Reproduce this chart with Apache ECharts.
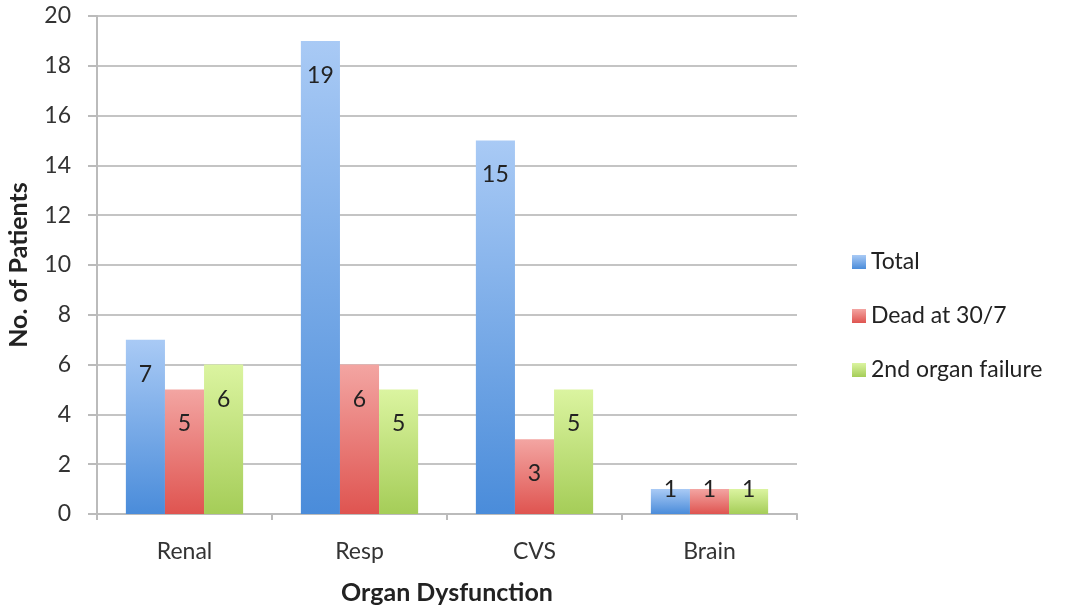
<!DOCTYPE html>
<html><head><meta charset="utf-8">
<script src="https://cdn.jsdelivr.net/npm/echarts@6/dist/echarts.min.js"></script>
<style>html,body{margin:0;padding:0;background:#fff}#c{width:1068px;height:609px}</style>
</head><body><div id="c"></div>
<script>
const categories = ['Renal', 'Resp', 'CVS', 'Brain'];
const totalValues = [7, 19, 15, 1];
const deadValues = [5, 6, 3, 1];
const secondOrganValues = [6, 5, 5, 1];
const seriesNames = ['Total', 'Dead at 30/7', '2nd organ failure'];

const FONT = 'Lato';
function grad(top, bottom) {
  return new echarts.graphic.LinearGradient(0, 0, 0, 1, [
    { offset: 0, color: top }, { offset: 1, color: bottom }
  ]);
}
const palettes = [
  ['#a9caf5', '#4a8cda'],
  ['#f3a5a2', '#df5450'],
  ['#dbf4a0', '#a5cd58']
];
function mk(vals) {
  return vals.map(v => v <= 1
    ? { value: v, label: { position: 'top', distance: -12 } }
    : { value: v });
}
const dataSets = [totalValues, deadValues, secondOrganValues];
const series = dataSets.map((vals, i) => ({
  name: seriesNames[i],
  type: 'bar',
  data: mk(vals),
  barGap: '0%',
  barCategoryGap: '33%',
  itemStyle: { color: grad(palettes[i][0], palettes[i][1]) },
  label: {
    show: true, position: 'insideTop', distance: 23,
    color: '#222', fontFamily: FONT, fontSize: 23
  }
}));

const chart = echarts.init(document.getElementById('c'));
chart.setOption({
  animation: false,
  backgroundColor: '#fff',
  grid: { left: 97, right: 271, top: 16, bottom: 95, outerBoundsMode: 'none', containLabel: false },
  legend: {
    orient: 'vertical', left: 852, top: 250, padding: 0,
    itemWidth: 14, itemHeight: 14, itemGap: 30,
    icon: 'rect',
    textStyle: { fontFamily: FONT, fontSize: 23, color: '#222', lineHeight: 24 },
    data: seriesNames.map((n, i) => ({ name: n, itemStyle: { color: grad(palettes[i][0], palettes[i][1]) } }))
  },
  xAxis: {
    type: 'category', data: categories,
    name: 'Organ Dysfunction', nameLocation: 'middle', nameGap: 66,
    nameTextStyle: { fontFamily: FONT, fontSize: 25, fontWeight: 'bold', color: '#222' },
    axisLine: { lineStyle: { color: '#bbb', width: 2 } },
    axisTick: { show: true, length: 6, lineStyle: { color: '#bbb', width: 2 } },
    axisLabel: { fontFamily: FONT, fontSize: 23, color: '#333', margin: 26 }
  },
  yAxis: {
    type: 'value', min: 0, max: 20, interval: 2,
    name: 'No. of Patients', nameLocation: 'middle', nameGap: 66, nameRotate: 90,
    nameTextStyle: { fontFamily: FONT, fontSize: 25, fontWeight: 'bold', color: '#222' },
    axisLine: { show: true, lineStyle: { color: '#bbb', width: 2 } },
    axisTick: { show: true, length: 9, lineStyle: { color: '#bbb', width: 2 } },
    axisLabel: { fontFamily: FONT, fontSize: 23, color: '#333', margin: 26 },
    splitLine: { lineStyle: { color: '#c4c4c4', width: 2 } }
  },
  series: series
});
</script></body></html>
